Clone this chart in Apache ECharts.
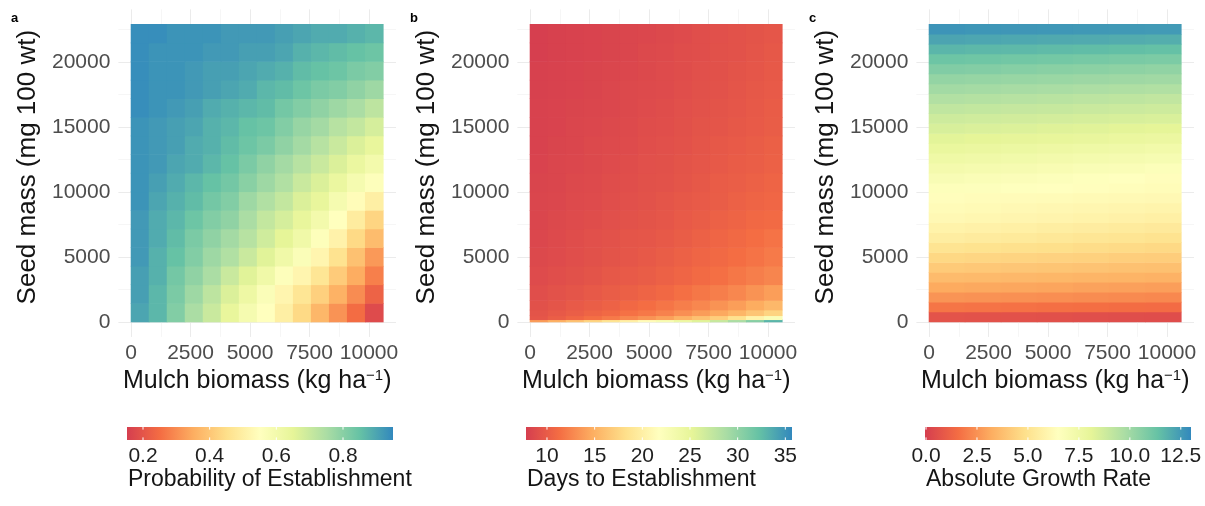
<!DOCTYPE html>
<html>
<head>
<meta charset="utf-8">
<script src="https://cdn.jsdelivr.net/npm/echarts@6/dist/echarts.min.js"></script>
<style>
  html, body { margin: 0; padding: 0; background: #ffffff; }
  #chart { width: 1205px; height: 506px; }
</style>
</head>
<body>
<div id="chart"></div>
<script>
// ---------------------------------------------------------------------------
// Model surfaces: mulch biomass (kg/ha) across, seed mass (mg per 100 seeds) up.
// Each surface is stored row by row, from the lowest seed mass to the highest.
// ---------------------------------------------------------------------------
const MULCH_MAX = 10600;
const SEED_MAX = 22900;

// column centres (mulch biomass) for panels a and b
const mulchFine = [379, 1136, 1893, 2650, 3407, 4164, 4921, 5679, 6436, 7193, 7950, 8707, 9464, 10221];

// a: probability of establishment
const seedA = [716, 2147, 3578, 5009, 6441, 7872, 9303, 10734, 12166, 13597, 15028, 16459, 17891, 19322, 20753, 22184];
const probEstablishment = [
  [0.90, 0.87, 0.81, 0.75, 0.70, 0.64, 0.59, 0.55, 0.50, 0.44, 0.37, 0.31, 0.25, 0.18],
  [0.91, 0.87, 0.82, 0.77, 0.72, 0.67, 0.62, 0.57, 0.52, 0.47, 0.42, 0.36, 0.30, 0.23],
  [0.91, 0.88, 0.83, 0.79, 0.75, 0.70, 0.66, 0.61, 0.56, 0.52, 0.47, 0.41, 0.35, 0.28],
  [0.92, 0.88, 0.85, 0.81, 0.77, 0.74, 0.70, 0.66, 0.61, 0.57, 0.52, 0.46, 0.39, 0.32],
  [0.92, 0.89, 0.86, 0.82, 0.79, 0.76, 0.73, 0.69, 0.65, 0.61, 0.56, 0.51, 0.44, 0.38],
  [0.92, 0.89, 0.87, 0.84, 0.81, 0.79, 0.75, 0.71, 0.68, 0.64, 0.60, 0.55, 0.49, 0.43],
  [0.93, 0.90, 0.88, 0.86, 0.83, 0.81, 0.77, 0.74, 0.71, 0.67, 0.64, 0.59, 0.54, 0.50],
  [0.93, 0.91, 0.89, 0.87, 0.85, 0.83, 0.80, 0.77, 0.74, 0.70, 0.67, 0.63, 0.59, 0.56],
  [0.93, 0.92, 0.90, 0.89, 0.87, 0.85, 0.82, 0.79, 0.76, 0.73, 0.70, 0.67, 0.63, 0.60],
  [0.93, 0.92, 0.91, 0.89, 0.88, 0.86, 0.84, 0.82, 0.79, 0.76, 0.73, 0.70, 0.67, 0.64],
  [0.93, 0.92, 0.91, 0.90, 0.88, 0.87, 0.85, 0.84, 0.81, 0.78, 0.76, 0.73, 0.71, 0.68],
  [0.94, 0.93, 0.92, 0.91, 0.89, 0.88, 0.87, 0.86, 0.83, 0.81, 0.79, 0.77, 0.75, 0.72],
  [0.94, 0.93, 0.93, 0.92, 0.91, 0.90, 0.89, 0.87, 0.86, 0.84, 0.82, 0.81, 0.79, 0.77],
  [0.94, 0.93, 0.93, 0.92, 0.91, 0.91, 0.90, 0.89, 0.88, 0.86, 0.85, 0.84, 0.82, 0.81],
  [0.94, 0.93, 0.93, 0.93, 0.92, 0.92, 0.91, 0.91, 0.90, 0.88, 0.87, 0.86, 0.85, 0.84],
  [0.94, 0.94, 0.93, 0.93, 0.93, 0.92, 0.92, 0.92, 0.91, 0.90, 0.89, 0.89, 0.88, 0.87]
];

// b: days to establishment (rows packed tighter near zero seed mass)
const seedB = [60, 285, 675, 1166, 2147, 3578, 5009, 6441, 7872, 9303, 10734, 12166, 13597, 15028, 16459, 17891, 19322, 20753, 22184];
const daysToEstablishment = [
  [13.8, 15.0, 16.2, 17.5, 18.8, 20.1, 21.4, 22.8, 24.2, 25.6, 27.1, 28.7, 30.6, 33.0],
  [9.6, 10.2, 10.8, 11.4, 12.0, 12.7, 13.4, 14.1, 15.1, 16.1, 17.0, 18.5, 20.4, 22.4],
  [9.4, 9.8, 10.2, 10.6, 11.0, 11.5, 11.9, 12.4, 13.1, 13.8, 14.5, 15.3, 16.4, 17.4],
  [9.2, 9.5, 9.9, 10.2, 10.5, 10.9, 11.3, 11.7, 12.2, 12.7, 13.3, 13.9, 14.7, 15.5],
  [9.0, 9.3, 9.5, 9.8, 10.1, 10.3, 10.6, 10.9, 11.4, 11.8, 12.2, 12.7, 13.3, 13.9],
  [8.8, 9.0, 9.2, 9.4, 9.7, 9.9, 10.1, 10.4, 10.7, 11.1, 11.4, 11.8, 12.2, 12.6],
  [8.6, 8.8, 9.0, 9.2, 9.4, 9.6, 9.8, 10.1, 10.4, 10.7, 11.0, 11.3, 11.6, 12.0],
  [8.5, 8.7, 8.9, 9.1, 9.3, 9.5, 9.6, 9.8, 10.1, 10.4, 10.7, 11.0, 11.3, 11.6],
  [8.4, 8.6, 8.8, 8.9, 9.1, 9.3, 9.4, 9.6, 9.9, 10.1, 10.4, 10.6, 10.9, 11.1],
  [8.4, 8.5, 8.7, 8.8, 9.0, 9.1, 9.3, 9.5, 9.7, 9.9, 10.1, 10.4, 10.6, 10.8],
  [8.3, 8.4, 8.6, 8.7, 8.9, 9.0, 9.2, 9.3, 9.5, 9.7, 10.0, 10.2, 10.4, 10.6],
  [8.2, 8.4, 8.5, 8.6, 8.8, 8.9, 9.1, 9.2, 9.4, 9.6, 9.8, 10.0, 10.2, 10.4],
  [8.1, 8.3, 8.4, 8.6, 8.7, 8.8, 9.0, 9.1, 9.3, 9.5, 9.7, 9.9, 10.1, 10.3],
  [8.1, 8.2, 8.4, 8.5, 8.6, 8.7, 8.9, 9.0, 9.2, 9.4, 9.5, 9.7, 9.9, 10.1],
  [8.1, 8.2, 8.3, 8.4, 8.5, 8.6, 8.8, 8.9, 9.1, 9.3, 9.4, 9.6, 9.8, 10.0],
  [8.0, 8.1, 8.2, 8.3, 8.5, 8.6, 8.7, 8.8, 9.0, 9.2, 9.3, 9.5, 9.7, 9.9],
  [8.0, 8.1, 8.2, 8.3, 8.4, 8.5, 8.6, 8.8, 8.9, 9.1, 9.2, 9.4, 9.6, 9.8],
  [7.9, 8.0, 8.1, 8.2, 8.3, 8.4, 8.6, 8.7, 8.9, 9.0, 9.2, 9.3, 9.5, 9.7],
  [7.9, 8.0, 8.1, 8.2, 8.3, 8.4, 8.5, 8.6, 8.8, 9.0, 9.1, 9.3, 9.4, 9.6]
];

// c: absolute growth rate (varies mostly with seed mass)
const mulchC = [757, 2271, 3786, 5300, 6814, 8329, 9843];
const seedC = [382, 1145, 1908, 2672, 3435, 4198, 4962, 5725, 6488, 7252, 8015, 8778, 9542, 10305, 11068,
               11832, 12595, 13358, 14122, 14885, 15648, 16412, 17175, 17938, 18702, 19465, 20228, 20992, 21755, 22518];
const growthRate = [
  [0.68, 0.64, 0.61, 0.57, 0.53, 0.50, 0.46],
  [1.77, 1.73, 1.68, 1.64, 1.60, 1.55, 1.51],
  [2.55, 2.50, 2.45, 2.41, 2.36, 2.31, 2.26],
  [3.13, 3.08, 3.03, 2.98, 2.92, 2.87, 2.82],
  [3.65, 3.60, 3.55, 3.50, 3.45, 3.40, 3.35],
  [4.12, 4.07, 4.01, 3.96, 3.90, 3.84, 3.79],
  [4.59, 4.53, 4.46, 4.40, 4.34, 4.27, 4.21],
  [5.05, 4.98, 4.90, 4.83, 4.76, 4.68, 4.61],
  [5.52, 5.43, 5.35, 5.26, 5.17, 5.09, 5.00],
  [5.83, 5.75, 5.66, 5.58, 5.50, 5.41, 5.33],
  [6.13, 6.05, 5.97, 5.90, 5.82, 5.74, 5.66],
  [6.26, 6.19, 6.13, 6.07, 6.00, 5.94, 5.87],
  [6.37, 6.33, 6.29, 6.25, 6.20, 6.16, 6.12],
  [6.63, 6.58, 6.52, 6.47, 6.41, 6.35, 6.30],
  [6.91, 6.82, 6.73, 6.64, 6.55, 6.46, 6.37],
  [7.22, 7.13, 7.05, 6.96, 6.87, 6.79, 6.70],
  [7.52, 7.44, 7.36, 7.28, 7.19, 7.11, 7.03],
  [7.86, 7.77, 7.69, 7.60, 7.51, 7.43, 7.34],
  [8.20, 8.12, 8.04, 7.96, 7.88, 7.80, 7.72],
  [8.52, 8.45, 8.38, 8.31, 8.24, 8.17, 8.10],
  [8.81, 8.75, 8.69, 8.64, 8.58, 8.52, 8.46],
  [9.15, 9.09, 9.03, 8.98, 8.92, 8.86, 8.80],
  [9.55, 9.48, 9.41, 9.35, 9.28, 9.21, 9.14],
  [9.93, 9.87, 9.81, 9.75, 9.68, 9.62, 9.56],
  [10.29, 10.24, 10.18, 10.13, 10.08, 10.02, 9.97],
  [10.74, 10.68, 10.61, 10.55, 10.49, 10.42, 10.36],
  [11.21, 11.15, 11.09, 11.03, 10.96, 10.90, 10.84],
  [11.71, 11.66, 11.61, 11.56, 11.51, 11.46, 11.41],
  [12.20, 12.16, 12.11, 12.07, 12.03, 11.98, 11.94],
  [12.65, 12.62, 12.60, 12.58, 12.55, 12.53, 12.50]
];

// axis ticks
const mulchTicks = [0, 2500, 5000, 7500, 10000];
const mulchMinor = [1250, 3750, 6250, 8750];
const seedTicks = [0, 5000, 10000, 15000, 20000];
const seedMinor = [2500, 7500, 12500, 17500, 22500];

// colour-bar ranges and ticks
const probRange = [0.152, 0.95];
const probTicks = [0.2, 0.4, 0.6, 0.8];
const daysRange = [7.8, 35.7];
const daysTicks = [10, 15, 20, 25, 30, 35];
const growthRange = [-0.05, 13.0];
const growthTicks = [0, 2.5, 5, 7.5, 10, 12.5];

// ---------------------------------------------------------------------------
const SPECTRAL = ['#D53E4F', '#F46D43', '#FDAE61', '#FEE08B', '#FFFFBF', '#E6F598', '#ABDDA4', '#66C2A5', '#3288BD'];
const FONT = '"Liberation Sans", Arial, Helvetica, sans-serif';
const TICK_GREY = '#4d4d4d';
const INK = '#141414';

const panels = [
  { letter: 'a', mulch: mulchFine, seed: seedA, values: probEstablishment, range: probRange,
    ticks: probTicks, fmt: v => v.toFixed(1), legend: 'Probability of Establishment' },
  { letter: 'b', mulch: mulchFine, seed: seedB, values: daysToEstablishment, range: daysRange,
    ticks: daysTicks, fmt: v => String(v), legend: 'Days to Establishment' },
  { letter: 'c', mulch: mulchC, seed: seedC, values: growthRate, range: growthRange,
    ticks: growthTicks, fmt: v => v.toFixed(1), legend: 'Absolute Growth Rate' }
];

// cell boundaries: half-way between neighbouring centres, closed by the domain limits
function edges(centres, upper) {
  const e = [0];
  for (let i = 1; i < centres.length; i++) e.push((centres[i - 1] + centres[i]) / 2);
  e.push(upper);
  return e;
}

const plain = v => String(v);

// layout (pixels)
const PANEL_STEP = 399;
const PANEL_LEFT = 118.4;
const PANEL_TOP = 9.35;
const PANEL_W = 277.6;
const PANEL_H = 327.6;
const X_MIN = -530, X_MAX = 11134;
const Y_MIN = -1150, Y_MAX = 24050;
const BAR_LEFT = 127, BAR_TOP = 427, BAR_W = 266, BAR_H = 13;

const grid = [], xAxis = [], yAxis = [], series = [], visualMap = [], title = [];

panels.forEach((p, k) => {
  const off = PANEL_STEP * k;
  // plot panel
  grid.push({ left: PANEL_LEFT + off, top: PANEL_TOP, width: PANEL_W, height: PANEL_H, outerBoundsMode: 'none' });
  // colour bar
  grid.push({ left: BAR_LEFT + off, top: BAR_TOP, width: BAR_W, height: BAR_H, outerBoundsMode: 'none' });
  const gMain = 2 * k, gBar = 2 * k + 1;

  const xMajor = xAxis.length;
  xAxis.push({
    type: 'value', gridIndex: gMain, min: X_MIN, max: X_MAX, position: 'bottom',
    name: 'Mulch biomass (kg ha{sup|\u22121})', nameLocation: 'middle', nameGap: 26,
    nameTextStyle: {
      fontSize: 25, color: INK, fontFamily: FONT,
      rich: { sup: { fontSize: 15, color: INK, fontFamily: FONT, verticalAlign: 'top' } }
    },
    axisLine: { show: false },
    axisTick: { show: false, customValues: mulchTicks },
    axisLabel: { customValues: mulchTicks, formatter: plain, fontSize: 21, color: TICK_GREY, fontFamily: FONT, margin: 6 },
    splitLine: { show: true, lineStyle: { color: '#ebebeb', width: 1 } }
  });
  xAxis.push({
    type: 'value', gridIndex: gMain, min: X_MIN, max: X_MAX, position: 'top',
    axisLine: { show: false },
    axisTick: { show: false, customValues: mulchMinor },
    axisLabel: { show: false, customValues: mulchMinor },
    splitLine: { show: true, lineStyle: { color: '#f2f2f2', width: 0.7 } }
  });
  const yMajor = yAxis.length;
  yAxis.push({
    type: 'value', gridIndex: gMain, min: Y_MIN, max: Y_MAX, position: 'left',
    name: 'Seed mass (mg 100 wt)', nameLocation: 'middle', nameGap: 78,
    nameTextStyle: { fontSize: 26, color: INK, fontFamily: FONT, padding: [0, 0, 0, 12] },
    axisLine: { show: false },
    axisTick: { show: false, customValues: seedTicks },
    axisLabel: { customValues: seedTicks, formatter: plain, fontSize: 21, color: TICK_GREY, fontFamily: FONT, margin: 8 },
    splitLine: { show: true, lineStyle: { color: '#ebebeb', width: 1 } }
  });
  yAxis.push({
    type: 'value', gridIndex: gMain, min: Y_MIN, max: Y_MAX, position: 'right',
    axisLine: { show: false },
    axisTick: { show: false, customValues: seedMinor },
    axisLabel: { show: false, customValues: seedMinor },
    splitLine: { show: true, lineStyle: { color: '#f2f2f2', width: 0.7 } }
  });

  // colour bar axes
  const xBar = xAxis.length;
  xAxis.push({
    type: 'value', gridIndex: gBar, min: p.range[0], max: p.range[1],
    axisLine: { show: false },
    axisTick: { show: false, customValues: p.ticks },
    axisLabel: { customValues: p.ticks, formatter: p.fmt, fontSize: 21, color: '#1f1f1f', fontFamily: FONT, margin: 6 },
    splitLine: { show: false }
  });
  const yBar = yAxis.length;
  yAxis.push({ type: 'value', gridIndex: gBar, min: 0, max: 1, show: false });

  // heat surface
  const xE = edges(p.mulch, MULCH_MAX);
  const yE = edges(p.seed, SEED_MAX);
  const nCols = p.mulch.length;
  const data = [];
  p.values.forEach((row, r) => row.forEach((v, c) => data.push([p.mulch[c], p.seed[r], v])));
  const heatIndex = series.length;
  series.push({
    type: 'custom', coordinateSystem: 'cartesian2d', xAxisIndex: xMajor, yAxisIndex: yMajor,
    silent: true, encode: { x: 0, y: 1 }, data: data,
    renderItem: function (params, api) {
      const i = params.dataIndex;
      const c = i % nCols, r = Math.floor(i / nCols);
      const a = api.coord([xE[c], yE[r]]);
      const b = api.coord([xE[c + 1], yE[r + 1]]);
      const x0 = Math.min(a[0], b[0]), y0 = Math.min(a[1], b[1]);
      return {
        type: 'rect',
        shape: { x: x0 - 0.3, y: y0 - 0.3, width: Math.abs(b[0] - a[0]) + 0.6, height: Math.abs(b[1] - a[1]) + 0.6 },
        style: { fill: api.visual('color') }
      };
    }
  });
  visualMap.push({
    type: 'continuous', show: false, seriesIndex: heatIndex, dimension: 2,
    min: p.range[0], max: p.range[1], inRange: { color: SPECTRAL }
  });

  // colour bar with white tick notches
  const ticks = p.ticks;
  series.push({
    type: 'custom', coordinateSystem: 'cartesian2d', xAxisIndex: xBar, yAxisIndex: yBar,
    silent: true, data: [[p.range[0], p.range[1]]],
    renderItem: function (params, api) {
      const lo = api.coord([api.value(0), 0]);
      const hi = api.coord([api.value(1), 1]);
      const h = lo[1] - hi[1];
      const stops = SPECTRAL.map((col, i) => ({ offset: i / (SPECTRAL.length - 1), color: col }));
      const children = [{
        type: 'rect',
        shape: { x: lo[0], y: hi[1], width: hi[0] - lo[0], height: h },
        style: { fill: new echarts.graphic.LinearGradient(0, 0, 1, 0, stops) }
      }];
      ticks.forEach(t => {
        const px = api.coord([t, 0])[0];
        children.push({ type: 'line', shape: { x1: px, y1: hi[1], x2: px, y2: hi[1] + h * 0.2 }, style: { stroke: '#ffffff', lineWidth: 1 } });
        children.push({ type: 'line', shape: { x1: px, y1: lo[1] - h * 0.2, x2: px, y2: lo[1] }, style: { stroke: '#ffffff', lineWidth: 1 } });
      });
      return { type: 'group', children: children };
    }
  });

  title.push({ text: p.letter, left: 11 + off, top: 12, padding: 0,
    textStyle: { fontSize: 13, fontWeight: 'bold', color: '#000', fontFamily: FONT } });
  title.push({ text: p.legend, left: 128 + off, top: 468, padding: 0,
    textStyle: { fontSize: 23, fontWeight: 'normal', color: INK, fontFamily: FONT } });
});

const chart = echarts.init(document.getElementById('chart'), null, { renderer: 'canvas' });
chart.setOption({
  backgroundColor: '#ffffff',
  animation: false,
  title: title,
  grid: grid,
  xAxis: xAxis,
  yAxis: yAxis,
  visualMap: visualMap,
  series: series
});
</script>
</body>
</html>
